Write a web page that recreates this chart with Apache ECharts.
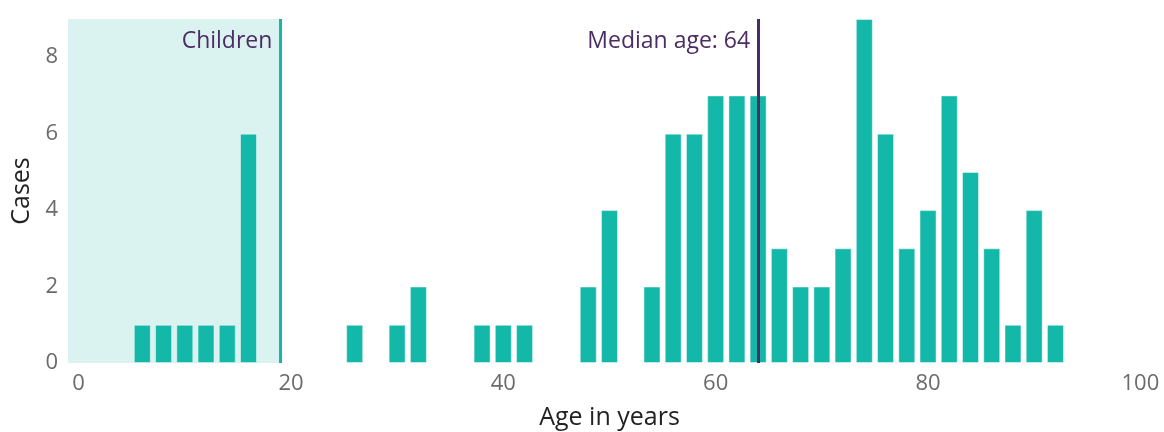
<!DOCTYPE html>
<html>
<head>
<meta charset="utf-8">
<script src="https://cdn.jsdelivr.net/npm/echarts@6/dist/echarts.min.js"></script>
<style>html,body{margin:0;padding:0;background:#fff}#c{width:1164px;height:432px}</style>
</head>
<body>
<div id="c"></div>
<script>
const ages = [6, 8, 10, 12, 14, 16, 26, 30, 32, 38, 40, 42, 48, 50, 54, 56, 58, 60, 62, 64, 66, 68, 70, 72, 74, 76, 78, 80, 82, 84, 86, 88, 90, 92];
const cases = [1, 1, 1, 1, 1, 6, 1, 1, 2, 1, 1, 1, 2, 4, 2, 6, 6, 7, 7, 7, 3, 2, 2, 3, 9, 6, 3, 4, 7, 5, 3, 1, 4, 1];
const xTicks = [0, 20, 40, 60, 80, 100];
const yTicks = [0, 2, 4, 6, 8];
const childrenLimit = 19;
const medianAge = 64;
const childrenLabel = 'Children';
const medianLabel = 'Median age: ' + medianAge;
const xName = 'Age in years';
const yName = 'Cases';

const chart = echarts.init(document.getElementById('c'), null, {renderer: 'canvas'});
const font = '"Open Sans", "Noto Sans", sans-serif';
chart.setOption({
  animation: false,
  textStyle: {fontFamily: font},
  grid: {left: 68, right: 13, top: 19, bottom: 69, outerBoundsMode: 'none', containLabel: false},
  xAxis: {
    type: 'value', min: -1, max: 101,
    name: xName, nameLocation: 'middle', nameGap: 42,
    nameTextStyle: {fontSize: 25, color: '#222', fontFamily: font},
    axisLine: {show: false}, axisTick: {show: false}, splitLine: {show: false},
    axisLabel: {customValues: xTicks, fontSize: 22, color: '#6b6b6b', margin: 10, fontFamily: font}
  },
  yAxis: {
    type: 'value', min: 0, max: 9,
    name: yName, nameLocation: 'middle', nameGap: 33, nameRotate: 90,
    nameTextStyle: {fontSize: 25, color: '#222', fontFamily: font},
    axisLine: {show: false}, axisTick: {show: false}, splitLine: {show: false},
    axisLabel: {customValues: yTicks, fontSize: 22, color: '#6b6b6b', margin: 10, fontFamily: font}
  },
  series: [
    {
      type: 'line', data: [], z: 1, silent: true,
      markArea: {
        silent: true,
        itemStyle: {color: '#daf3f0'},
        data: [[{xAxis: -1}, {xAxis: childrenLimit}]]
      }
    },
    {
      type: 'bar', z: 2, barWidth: 17,
      data: ages.map((a, i) => [a, cases[i]]),
      itemStyle: {color: '#14b8a8', borderColor: 'rgba(255,255,255,0.45)', borderWidth: 1},
      markLine: {
        silent: true, symbol: 'none', z: 5,
        label: {show: false},
        data: [
          {xAxis: childrenLimit, lineStyle: {color: '#14b8a8', width: 3, type: 'solid'}},
          {xAxis: medianAge, lineStyle: {color: '#4b2c63', width: 3, type: 'solid'}}
        ]
      },
      markPoint: {
        silent: true, symbol: 'circle', symbolSize: 0,
        label: {show: true, position: 'left', distance: 8, fontSize: 23, color: '#4b2c63', fontFamily: font},
        data: [
          {coord: [childrenLimit, 8.4], value: childrenLabel, label: {formatter: childrenLabel}},
          {coord: [medianAge, 8.4], value: medianLabel, label: {formatter: medianLabel}}
        ]
      }
    }
  ]
});
</script>
</body>
</html>
